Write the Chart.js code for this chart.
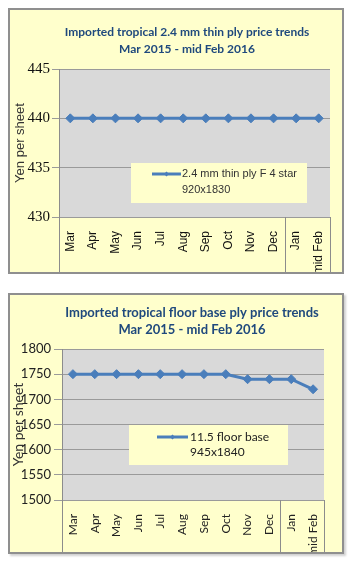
<!DOCTYPE html>
<html>
<head>
<meta charset="utf-8">
<script src="https://cdn.jsdelivr.net/npm/chart.js@4/dist/chart.umd.min.js"></script>
<style>
  html, body { margin: 0; padding: 0; background: #ffffff; width: 356px; height: 563px; overflow: hidden; }
  .box { position: absolute; box-sizing: border-box; border: 2px solid #8f8f8f; background: #FFFFCC; }
  #box1 { left: 8px; top: 8px; width: 336px; height: 266px; }
  #box2 { left: 8px; top: 293px; width: 336px; height: 261px; box-shadow: 2px 2px 2px #d0d0d0; }
  canvas { display: block; }
</style>
</head>
<body>
<div class="box" id="box1"><canvas id="c1" width="332" height="262"></canvas></div>
<div class="box" id="box2"><canvas id="c2" width="332" height="257"></canvas></div>
<script>
// ---- data ----
const categories = ['Mar', 'Apr', 'May', 'Jun', 'Jul', 'Aug', 'Sep', 'Oct', 'Nov', 'Dec', 'Jan', 'mid Feb'];
const thinPlyPrices = [440, 440, 440, 440, 440, 440, 440, 440, 440, 440, 440, 440];
const floorBasePrices = [1750, 1750, 1750, 1750, 1750, 1750, 1750, 1750, 1740, 1740, 1740, 1720];
const thinPlyTitle = ['Imported tropical 2.4 mm thin ply price trends', 'Mar 2015 - mid Feb 2016'];
const floorBaseTitle = ['Imported tropical floor base ply price trends', 'Mar 2015 - mid Feb 2016'];
const thinPlyLegend = ['2.4 mm thin ply F 4 star', '920x1830'];
const floorBaseLegend = ['11.5 floor base', '945x1840'];
const thinPlyTicks = [430, 445, 5];
const floorBaseTicks = [1500, 1800, 50];
const yTitle = 'Yen per sheet';

const LINE_COLOR = '#4A7EBB';

const plotBg = {
  id: 'plotBg',
  beforeDraw(chart, args, opts) {
    const { ctx, chartArea: { left, top, width, height } } = chart;
    ctx.save();
    ctx.fillStyle = opts.color;
    ctx.fillRect(left, top, width, height);
    ctx.restore();
  }
};

const titleLines = {
  id: 'titleLines',
  afterDraw(chart, args, opts) {
    const ctx = chart.ctx;
    ctx.save();
    ctx.fillStyle = opts.color;
    ctx.font = opts.font;
    ctx.textAlign = 'center';
    ctx.textBaseline = 'middle';
    opts.lines.forEach((t, i) => ctx.fillText(t, opts.x, opts.ys[i]));
    ctx.restore();
  }
};

const dividers = {
  id: 'dividers',
  afterDraw(chart, args, opts) {
    const { ctx, chartArea } = chart;
    const xs = chart.scales.x;
    const split = (xs.getPixelForValue(9) + xs.getPixelForValue(10)) / 2;
    ctx.save();
    ctx.strokeStyle = opts.color;
    ctx.lineWidth = 1;
    ctx.beginPath();
    ctx.moveTo(Math.round(xs.left) + 0.5, chartArea.top);
    ctx.lineTo(Math.round(xs.left) + 0.5, chart.height);
    ctx.moveTo(Math.round(split) + 0.5, chartArea.bottom);
    ctx.lineTo(Math.round(split) + 0.5, chart.height);
    ctx.moveTo(Math.round(xs.right) + 0.5, chartArea.bottom);
    ctx.lineTo(Math.round(xs.right) + 0.5, chart.height);
    ctx.stroke();
    ctx.restore();
  }
};

const legendBox = {
  id: 'legendBox',
  afterDraw(chart, args, opts) {
    const ctx = chart.ctx;
    ctx.save();
    ctx.fillStyle = opts.bg;
    ctx.fillRect(opts.x, opts.y, opts.w, opts.h);
    // line sample
    ctx.strokeStyle = LINE_COLOR;
    ctx.lineWidth = 3;
    ctx.beginPath();
    ctx.moveTo(opts.lx1, opts.ly);
    ctx.lineTo(opts.lx2, opts.ly);
    ctx.stroke();
    const mx = (opts.lx1 + opts.lx2) / 2;
    ctx.fillStyle = LINE_COLOR;
    ctx.beginPath();
    ctx.moveTo(mx, opts.ly - 2.5);
    ctx.lineTo(mx + 2.5, opts.ly);
    ctx.lineTo(mx, opts.ly + 2.5);
    ctx.lineTo(mx - 2.5, opts.ly);
    ctx.closePath();
    ctx.fill();
    ctx.fillStyle = opts.color;
    ctx.font = opts.font;
    ctx.textAlign = 'left';
    ctx.textBaseline = 'middle';
    opts.lines.forEach((t, i) => ctx.fillText(t, opts.tx, opts.tys[i]));
    ctx.restore();
  }
};

function makeChart(id, values, ticks, cfg) {
  return new Chart(document.getElementById(id), {
    type: 'line',
    data: {
      labels: categories,
      datasets: [{
        data: values,
        borderColor: LINE_COLOR,
        backgroundColor: LINE_COLOR,
        borderWidth: 3,
        pointStyle: 'rectRot',
        pointRadius: 4.5,
        pointBorderWidth: 1,
        tension: 0
      }]
    },
    options: {
      responsive: false,
      animation: false,
      layout: { padding: cfg.padding },
      plugins: {
        legend: { display: false },
        tooltip: { enabled: false },
        plotBg: { color: '#D9D9D9' },
        titleLines: cfg.title,
        dividers: { color: '#8C8C8C' },
        legendBox: cfg.legend
      },
      scales: {
        x: {
          offset: true,
          grid: { display: false },
          border: { display: false },
          ticks: {
            minRotation: 90, maxRotation: 90, autoSkip: false,
            padding: cfg.xPad,
            font: cfg.xFont,
            color: cfg.tickColor
          },
          afterFit(s) { s.height = cfg.xHeight; }
        },
        y: {
          min: ticks[0], max: ticks[1],
          ticks: {
            stepSize: ticks[2],
            padding: cfg.yPad,
            font: cfg.yFont,
            color: cfg.tickColor,
            callback: (v) => String(v)
          },
          grid: { color: '#9A9A9A', tickLength: cfg.tickLen, lineWidth: 1 },
          border: { display: false },
          title: {
            display: true, text: yTitle,
            font: cfg.yTitleFont, color: cfg.yTitleColor,
            padding: cfg.yTitlePad
          },
          afterFit(s) { s.width = cfg.yWidth; }
        }
      }
    },
    plugins: [plotBg, dividers, legendBox, titleLines]
  });
}

makeChart('c1', thinPlyPrices, thinPlyTicks, {
  padding: { top: 59, right: 12, bottom: 0, left: 0 },
  xHeight: 55, yWidth: 49, xPad: 6, yPad: 2, tickLen: 7,
  xFont: { family: '"Liberation Sans", Arial, sans-serif', size: 12 },
  yFont: { family: '"Liberation Serif", "Times New Roman", serif', size: 15 },
  tickColor: '#111',
  yTitleFont: { family: '"Liberation Sans", Arial, sans-serif', size: 13 },
  yTitleColor: '#333',
  yTitlePad: { top: 3, bottom: 0 },
  title: { lines: thinPlyTitle, font: 'bold 12px Lato', color: '#1F497D', x: 177, ys: [22.5, 39.5] },
  legend: {
    bg: '#FFFFCC', x: 121, y: 153, w: 176, h: 40,
    lx1: 142, lx2: 171, ly: 164,
    font: '11px "Liberation Sans", Arial, sans-serif', color: '#333',
    lines: thinPlyLegend, tx: 172, tys: [164, 180]
  }
});

makeChart('c2', floorBasePrices, floorBaseTicks, {
  padding: { top: 54, right: 18, bottom: 0, left: 0 },
  xHeight: 52, yWidth: 52, xPad: 6, yPad: 3, tickLen: 8,
  xFont: { family: 'Lato, sans-serif', size: 12 },
  yFont: { family: 'Lato, sans-serif', size: 13 },
  tickColor: '#222',
  yTitleFont: { family: 'Lato, sans-serif', size: 14 },
  yTitleColor: '#333',
  yTitlePad: { top: 0, bottom: 0 },
  title: { lines: floorBaseTitle, font: 'bold 13px Lato', color: '#1F497D', x: 182, ys: [17.5, 35] },
  legend: {
    bg: '#FFFFCC', x: 119, y: 130, w: 159, h: 40,
    lx1: 147, lx2: 178, ly: 142,
    font: '12px Lato, sans-serif', color: '#222',
    lines: floorBaseLegend, tx: 180, tys: [142, 157]
  }
});
</script>
</body>
</html>
